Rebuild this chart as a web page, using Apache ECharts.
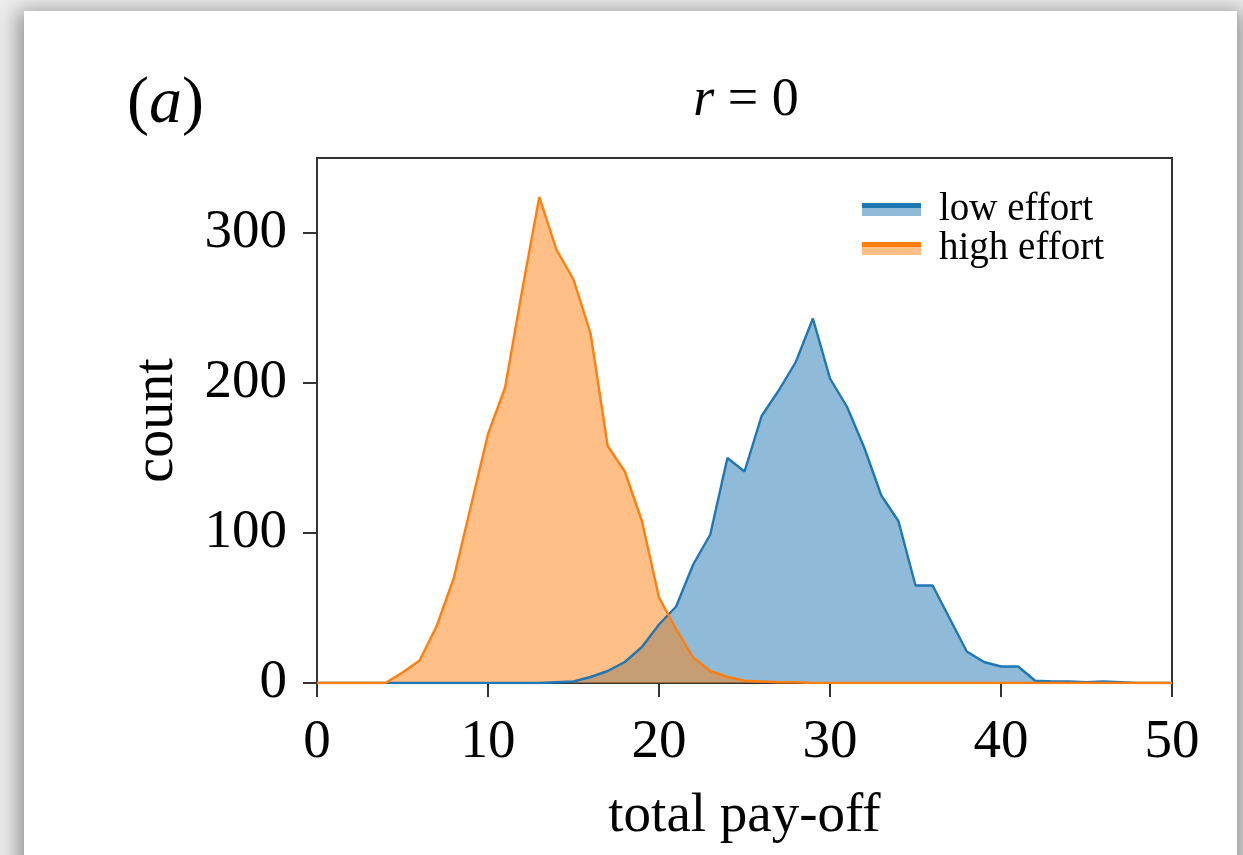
<!DOCTYPE html>
<html>
<head>
<meta charset="utf-8">
<script src="https://cdn.jsdelivr.net/npm/echarts@6/dist/echarts.min.js"></script>
<style>
  html, body { margin: 0; padding: 0; width: 1243px; height: 855px; overflow: hidden; background: #ececec; }
  #card { position: absolute; left: 24px; top: 11px; width: 1213px; height: 900px; background: #fff;
          box-shadow: 0 6px 20px 6px rgba(0,0,0,0.38); }
  #chart { position: absolute; left: 0; top: 0; width: 1243px; height: 855px; }
</style>
</head>
<body>
<div id="card"></div>
<div id="chart"></div>
<script>
const payoff = [0,1,2,3,4,5,6,7,8,9,10,11,12,13,14,15,16,17,18,19,20,21,22,23,24,25,26,27,28,29,30,31,32,33,34,35,36,37,38,39,40,41,42,43,44,45,46,47,48,49,50];
const lowEffort = [0,0,0,0,0,0,0,0,0,0,0,0,0,0,0.5,1,4,8,14,24,39,51,79,99,150,141,178,195,214,243,203,184,157,125,108,65,65,43,21,14,11,11,1.5,1,1,0.5,1,0.5,0,0,0];
const highEffort = [0,0,0,0,0,7,15,38,70,118,166,197,262,324,289,269,233,158,141,108,57,36,17,8,4,1.5,1,0.5,0.5,0,0,0,0,0,0,0,0,0,0,0,0,0,0,0,0,0,0,0,0,0,0];
const xTicks = [0,10,20,30,40,50];
const yTicks = [0,100,200,300];
const seriesNames = ['low effort', 'high effort'];

const FONT = 'Liberation Serif';
const blue = '#1f77b4', orange = '#ff7f0e';
const blueFill = '#8fbbd9', orangeFill = '#ffbf86';

function pairs(xs, ys) { return xs.map((x, i) => [x, ys[i]]); }
function handle(dark, light) {
  return { type: 'linear', x: 0, y: 0, x2: 0, y2: 1,
    colorStops: [{offset: 0, color: dark}, {offset: 0.4, color: dark}, {offset: 0.4, color: light}, {offset: 1, color: light}] };
}

const chart = echarts.init(document.getElementById('chart'), null, {renderer: 'canvas'});
chart.setOption({
  backgroundColor: 'transparent',
  animation: false,
  grid: { left: 317, top: 158, width: 855, height: 525, show: true, borderColor: '#333', borderWidth: 2, backgroundColor: 'transparent' },
  xAxis: {
    type: 'value', min: 0, max: 50, interval: 10,
    name: 'total pay-off', nameLocation: 'middle', nameGap: 106,
    nameTextStyle: { fontFamily: FONT, fontSize: 55, color: '#000' },
    axisLine: { show: true, lineStyle: { color: '#333', width: 2 } },
    axisTick: { show: true, inside: false, length: 14, lineStyle: { color: '#333', width: 2 }, customValues: xTicks },
    axisLabel: { fontFamily: FONT, fontSize: 55, color: '#000', margin: 32, customValues: xTicks },
    splitLine: { show: false }
  },
  yAxis: {
    type: 'value', min: 0, max: 350,
    name: 'count', nameLocation: 'middle', nameGap: 132, nameRotate: 90,
    nameTextStyle: { fontFamily: FONT, fontSize: 56, color: '#000' },
    axisLine: { show: true, lineStyle: { color: '#333', width: 2 } },
    axisTick: { show: true, inside: false, length: 14, lineStyle: { color: '#333', width: 2 }, customValues: yTicks },
    axisLabel: { fontFamily: FONT, fontSize: 55, color: '#000', margin: 30, customValues: yTicks },
    splitLine: { show: false }
  },
  legend: {
    orient: 'vertical', left: 857, top: 185, itemGap: 0,
    itemWidth: 59, itemHeight: 13,
    textStyle: { fontFamily: FONT, fontSize: 39, color: '#000', lineHeight: 38, padding: [0, 0, 0, 13] },
    data: [
      { name: seriesNames[0], icon: 'rect', itemStyle: { color: handle(blue, blueFill), borderWidth: 0 } },
      { name: seriesNames[1], icon: 'rect', itemStyle: { color: handle(orange, orangeFill), borderWidth: 0 } }
    ]
  },
  graphic: [
    { type: 'text', left: 127, top: 72, style: { text: '({a|a})', fontFamily: FONT, fontSize: 66, fill: '#000',
      rich: { a: { fontFamily: FONT, fontSize: 66, fontStyle: 'italic', fill: '#000' } } } },
    { type: 'text', x: 746, y: 101, style: { text: '{i|r} = 0', textAlign: 'center', textVerticalAlign: 'middle',
      fontFamily: FONT, fontSize: 54, fill: '#000',
      rich: { i: { fontFamily: FONT, fontSize: 54, fontStyle: 'italic', fill: '#000' } } } }
  ],
  series: [
    { name: seriesNames[0], type: 'line', data: pairs(payoff, lowEffort), symbol: 'none', smooth: false,
      lineStyle: { color: blue, width: 2.4 }, itemStyle: { color: blue },
      areaStyle: { color: blue, opacity: 0.5 } },
    { name: seriesNames[1], type: 'line', data: pairs(payoff, highEffort), symbol: 'none', smooth: false,
      lineStyle: { color: orange, width: 2.4 }, itemStyle: { color: orange },
      areaStyle: { color: orange, opacity: 0.5 } }
  ]
});
</script>
</body>
</html>
